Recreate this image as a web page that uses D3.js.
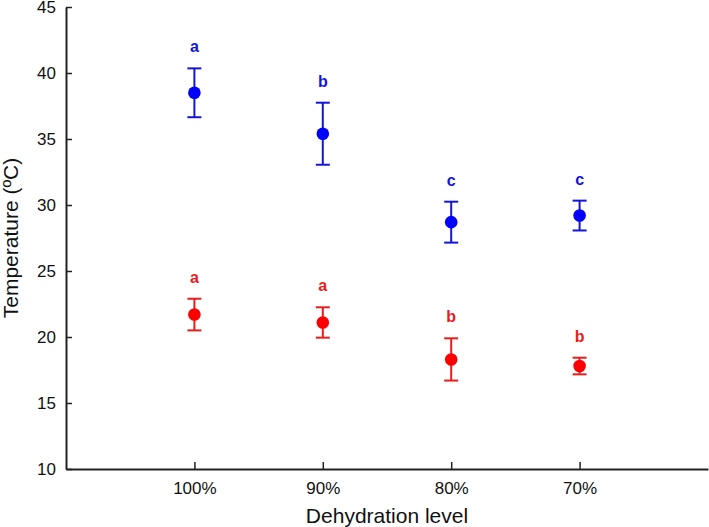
<!DOCTYPE html>
<html>
<head>
<meta charset="utf-8">
<script src="https://cdn.jsdelivr.net/npm/d3@7"></script>
<style>
  html, body { margin: 0; padding: 0; background: #fff; }
  svg { display: block; font-family: "Liberation Sans", Arial, sans-serif; }
</style>
</head>
<body>
<svg id="chart" width="709" height="527"></svg>
<script>
// ---- data ----
const categories = ["100%", "90%", "80%", "70%"];
const blueMean = [38.5, 35.4, 28.7, 29.2];
const blueErr  = [1.85, 2.35, 1.55, 1.13];
const blueLetters = ["a", "b", "c", "c"];
const redMean = [21.7, 21.1, 18.3, 17.8];
const redErr  = [1.2, 1.15, 1.6, 0.63];
const redLetters = ["a", "a", "b", "b"];
const yTicks = [10, 15, 20, 25, 30, 35, 40, 45];

const xLabel = "Dehydration level";
const yLabel = "Temperature (ºC)";

// ---- layout ----
const svg = d3.select("#chart");
const plotLeft = 66, plotRight = 708, plotTop = 7, plotBottom = 469;

const x = d3.scalePoint().domain(categories).range([plotLeft, plotRight]).padding(1);
const y = d3.scaleLinear().domain([10, 45]).range([plotBottom, plotTop]);

const axisColor = "#222";

// y axis
const gy = svg.append("g")
  .attr("transform", `translate(${plotLeft},0)`)
  .call(d3.axisLeft(y).tickValues(yTicks).tickSizeInner(-6).tickSizeOuter(0).tickPadding(10));
gy.select(".domain").attr("stroke", axisColor).attr("stroke-width", 2);
gy.selectAll(".tick line").attr("stroke", axisColor).attr("stroke-width", 1.5);
gy.selectAll(".tick text").attr("fill", "#111").style("font-size", "17px");

// x axis
const gx = svg.append("g")
  .attr("transform", `translate(0,${plotBottom})`)
  .call(d3.axisBottom(x).tickSizeInner(-7).tickSizeOuter(0).tickPadding(13));
gx.select(".domain").attr("stroke", axisColor).attr("stroke-width", 2);
gx.selectAll(".tick line").attr("stroke", axisColor).attr("stroke-width", 1.5);
gx.selectAll(".tick text").attr("fill", "#111").style("font-size", "17px");

// axis titles
svg.append("text")
  .attr("x", (plotLeft + plotRight) / 2).attr("y", 523)
  .attr("text-anchor", "middle")
  .style("font-size", "21px").attr("fill", "#111")
  .text(xLabel);

svg.append("text")
  .attr("transform", `translate(18,${(plotTop + plotBottom) / 2}) rotate(-90)`)
  .attr("text-anchor", "middle")
  .style("font-size", "21px").attr("fill", "#111")
  .text(yLabel);

// ---- series ----
function drawSeries(means, errs, letters, markColor, lineColor) {
  const data = categories.map((c, i) => ({ c, m: means[i], e: errs[i], l: letters[i] }));
  const g = svg.append("g");
  const capW = 7;
  const grp = g.selectAll("g.pt").data(data).join("g").attr("class", "pt");
  grp.append("line")
    .attr("x1", d => x(d.c)).attr("x2", d => x(d.c))
    .attr("y1", d => y(d.m + d.e)).attr("y2", d => y(d.m - d.e))
    .attr("stroke", lineColor).attr("stroke-width", 2);
  grp.append("line")
    .attr("x1", d => x(d.c) - capW).attr("x2", d => x(d.c) + capW)
    .attr("y1", d => y(d.m + d.e)).attr("y2", d => y(d.m + d.e))
    .attr("stroke", lineColor).attr("stroke-width", 2);
  grp.append("line")
    .attr("x1", d => x(d.c) - capW).attr("x2", d => x(d.c) + capW)
    .attr("y1", d => y(d.m - d.e)).attr("y2", d => y(d.m - d.e))
    .attr("stroke", lineColor).attr("stroke-width", 2);
  grp.append("circle")
    .attr("cx", d => x(d.c)).attr("cy", d => y(d.m))
    .attr("r", 6.3).attr("fill", markColor);
  grp.append("text")
    .attr("x", d => x(d.c)).attr("y", d => y(d.m + d.e) - 16)
    .attr("text-anchor", "middle")
    .style("font-size", "16px").style("font-weight", "bold")
    .attr("fill", lineColor)
    .text(d => d.l);
}

drawSeries(blueMean, blueErr, blueLetters, "#0000ff", "#1515d6");
drawSeries(redMean, redErr, redLetters, "#ff0000", "#e81c1c");
</script>
</body>
</html>
